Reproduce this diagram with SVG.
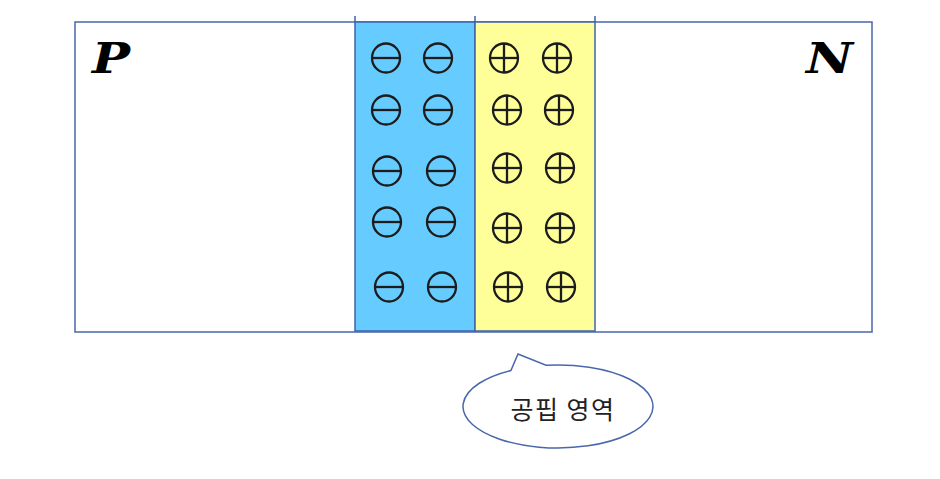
<svg xmlns="http://www.w3.org/2000/svg" xmlns:xlink="http://www.w3.org/1999/xlink" width="940" height="479" viewBox="0 0 940 479">
  <style>
    .frame { fill: #ffffff; stroke: #4a67ad; stroke-width: 1.5; }
    .pregion { fill: #66ccff; stroke: #3f63a8; stroke-width: 1.5; }
    .nregion { fill: #ffff99; stroke: #3f63a8; stroke-width: 1.5; }
    .ion { fill: none; stroke: #1c1c1c; stroke-width: 2.3; }
    .label { font-family: "DejaVu Serif", "Liberation Serif", serif; font-weight: bold; font-style: italic; font-size: 43px; fill: #000000; }
    .callout { fill: #ffffff; stroke: #4a67ad; stroke-width: 1.5; }
    .ctext { font-family: "Noto Sans CJK KR", "Noto Sans", sans-serif; font-size: 25px; letter-spacing: 1.5px; fill: #222222; }
  </style>
  <defs>
    <g id="neg">
      <ellipse class="ion" cx="0" cy="0" rx="14" ry="14.5"/>
      <line class="ion" x1="-14" y1="0" x2="14" y2="0"/>
    </g>
    <g id="pos">
      <ellipse class="ion" cx="0" cy="0" rx="14" ry="14.5"/>
      <line class="ion" x1="-14" y1="0" x2="14" y2="0"/>
      <line class="ion" x1="0" y1="-14.5" x2="0" y2="14.5"/>
    </g>
  </defs>

  <g id="junction">
    <rect class="frame" x="75" y="22" width="797" height="310"/>
  </g>

  <g id="p-depletion">
    <rect class="pregion" x="355" y="22" width="120" height="309"/>
    <line x1="355" y1="16" x2="355" y2="22" stroke="#3f63a8" stroke-width="1.5"/>
    <use xlink:href="#neg" x="386" y="58"/>
    <use xlink:href="#neg" x="438" y="58"/>
    <use xlink:href="#neg" x="386" y="110"/>
    <use xlink:href="#neg" x="438" y="110"/>
    <use xlink:href="#neg" x="387" y="171"/>
    <use xlink:href="#neg" x="441" y="171"/>
    <use xlink:href="#neg" x="387" y="222"/>
    <use xlink:href="#neg" x="441" y="222"/>
    <use xlink:href="#neg" x="389" y="287"/>
    <use xlink:href="#neg" x="442" y="287"/>
  </g>

  <g id="n-depletion">
    <rect class="nregion" x="475" y="22" width="120" height="309"/>
    <line x1="475" y1="16" x2="475" y2="22" stroke="#3f63a8" stroke-width="1.5"/>
    <line x1="595" y1="16" x2="595" y2="22" stroke="#3f63a8" stroke-width="1.5"/>
    <use xlink:href="#pos" x="504" y="58"/>
    <use xlink:href="#pos" x="557" y="58"/>
    <use xlink:href="#pos" x="507" y="110"/>
    <use xlink:href="#pos" x="559" y="110"/>
    <use xlink:href="#pos" x="507" y="168"/>
    <use xlink:href="#pos" x="560" y="168"/>
    <use xlink:href="#pos" x="507" y="228"/>
    <use xlink:href="#pos" x="560" y="228"/>
    <use xlink:href="#pos" x="508" y="287"/>
    <use xlink:href="#pos" x="561" y="287"/>
  </g>

  <g id="label-p">
    <text class="label" x="92" y="73" textLength="38" lengthAdjust="spacingAndGlyphs">P</text>
  </g>
  <g id="label-n">
    <text class="label" x="806" y="73" textLength="47" lengthAdjust="spacingAndGlyphs">N</text>
  </g>

  <g id="callout-depletion">
    <path class="callout" d="M 546 365.3 A 95 41.5 0 1 1 511 370.4 L 518 354 Z"/>
    <text class="ctext" x="563" y="419" text-anchor="middle">공핍 영역</text>
  </g>

  <g id="connectors"></g>
</svg>
